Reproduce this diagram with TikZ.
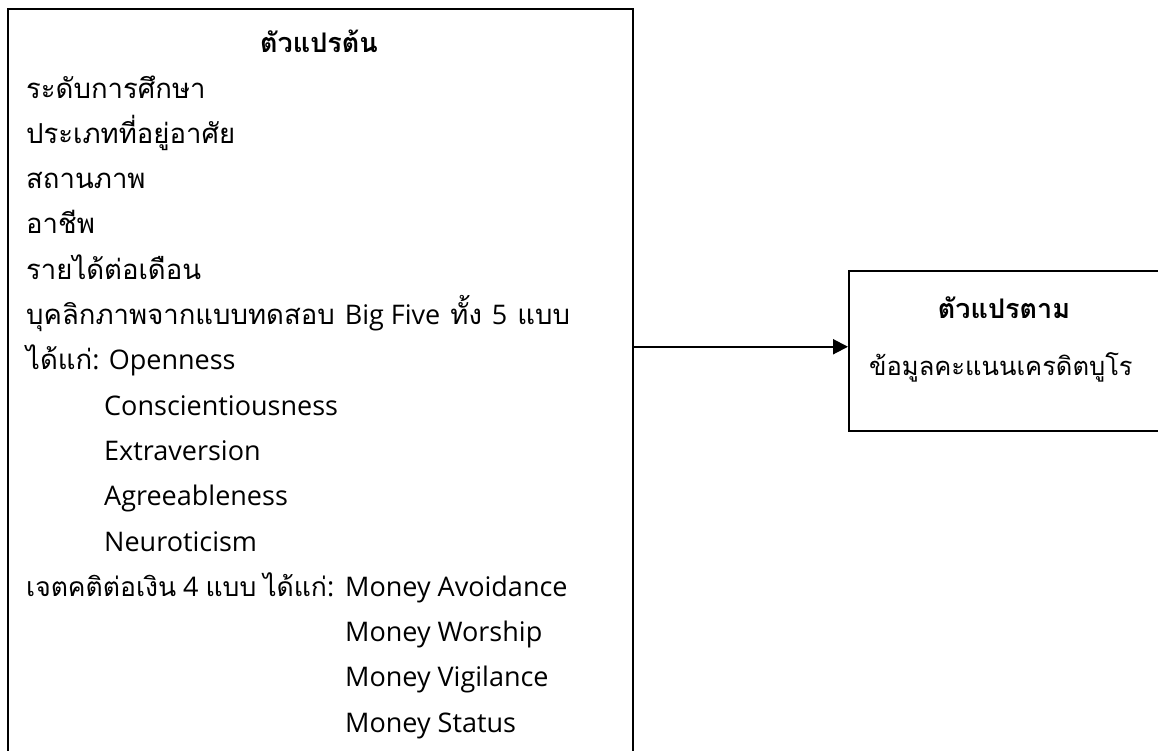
\documentclass[tikz,border=0pt]{standalone}
\usepackage{fontspec}
\setmainfont{Open Sans}
\newfontfamily\thai[Script=Thai]{Loma}
\usetikzlibrary{arrows.meta}
\newcommand{\T}[1]{{\fontsize{27.5}{30}\selectfont\thai #1}}
\newcommand{\Ts}[1]{{\fontsize{26.5}{30}\selectfont\thai #1}}
\newcommand{\Tr}[1]{{\fontsize{25.5}{30}\selectfont\thai #1}}
\newcommand{\wsp}{\hspace{10pt}}
\begin{document}
\begin{tikzpicture}[x=1pt,y=-1pt,
  txt/.style={anchor=base west, inner sep=0pt, font=\fontsize{27}{32}\selectfont},
  ttl/.style={anchor=base, inner sep=0pt, font=\fontsize{27}{30}\selectfont\thai\bfseries},
  box/.style={draw, line width=1.5pt, anchor=north west, inner sep=0pt},
  arr/.style={line width=2pt, -{Triangle[length=15pt,width=15pt]}}]
\useasboundingbox (0,0) rectangle (1158,750);
\node[box, minimum width=625pt, minimum height=760pt] (L) at (7,8) {};
\node[box, minimum width=312pt, minimum height=160pt] (R) at (848,270) {};
\coordinate (a) at ([yshift=4pt]R.west);
\draw[arr] (a -| L.east) -- (a);
% left box
\node[ttl] (lt) at (319,52) {ตัวแปรต้น};
\node[txt] (l1) at (26,98) {\T{ระดับการศึกษา}};
\node[txt] (l2) at (26,143.3) {\T{ประเภทที่อยู่อาศัย}};
\node[txt] (l3) at (26,188.6) {\T{สถานภาพ}};
\node[txt] (l4) at (26,233.9) {\T{อาชีพ}};
\node[txt] (l5) at (26,279.2) {\T{รายได้ต่อเดือน}};
\node[txt] (l6) at (26,324.5) {\T{บุคลิกภาพจากแบบทดสอบ}\wsp Big Five\wsp\T{ทั้ง}\wsp 5\wsp\T{แบบ}};
\node[txt] (l7) at (26,369.8) {\T{ได้แก่}: Openness};
\node[txt] (l8) at (104,415.1) {Conscientiousness};
\node[txt] (l9) at (104,460.4) {Extraversion};
\node[txt] (l10) at (104,505.7) {Agreeableness};
\node[txt] (l11) at (104,551) {Neuroticism};
\node[txt] (l12) at (26,596.3) {\Ts{เจตคติต่อเงิน} 4 \Ts{แบบ} \Ts{ได้แก่}:};
\node[txt] (m1) at (345,596.3) {Money Avoidance};
\node[txt] (m2) at (345,641.6) {Money Worship};
\node[txt] (m3) at (345,686.9) {Money Vigilance};
\node[txt] (m4) at (345,732.2) {Money Status};
% right box
\node[ttl] (rt) at (1004,318) {ตัวแปรตาม};
\node[txt] (r1) at (869,375) {\Tr{ข้อมูลคะแนนเครดิตบูโร}};
\end{tikzpicture}
\end{document}
